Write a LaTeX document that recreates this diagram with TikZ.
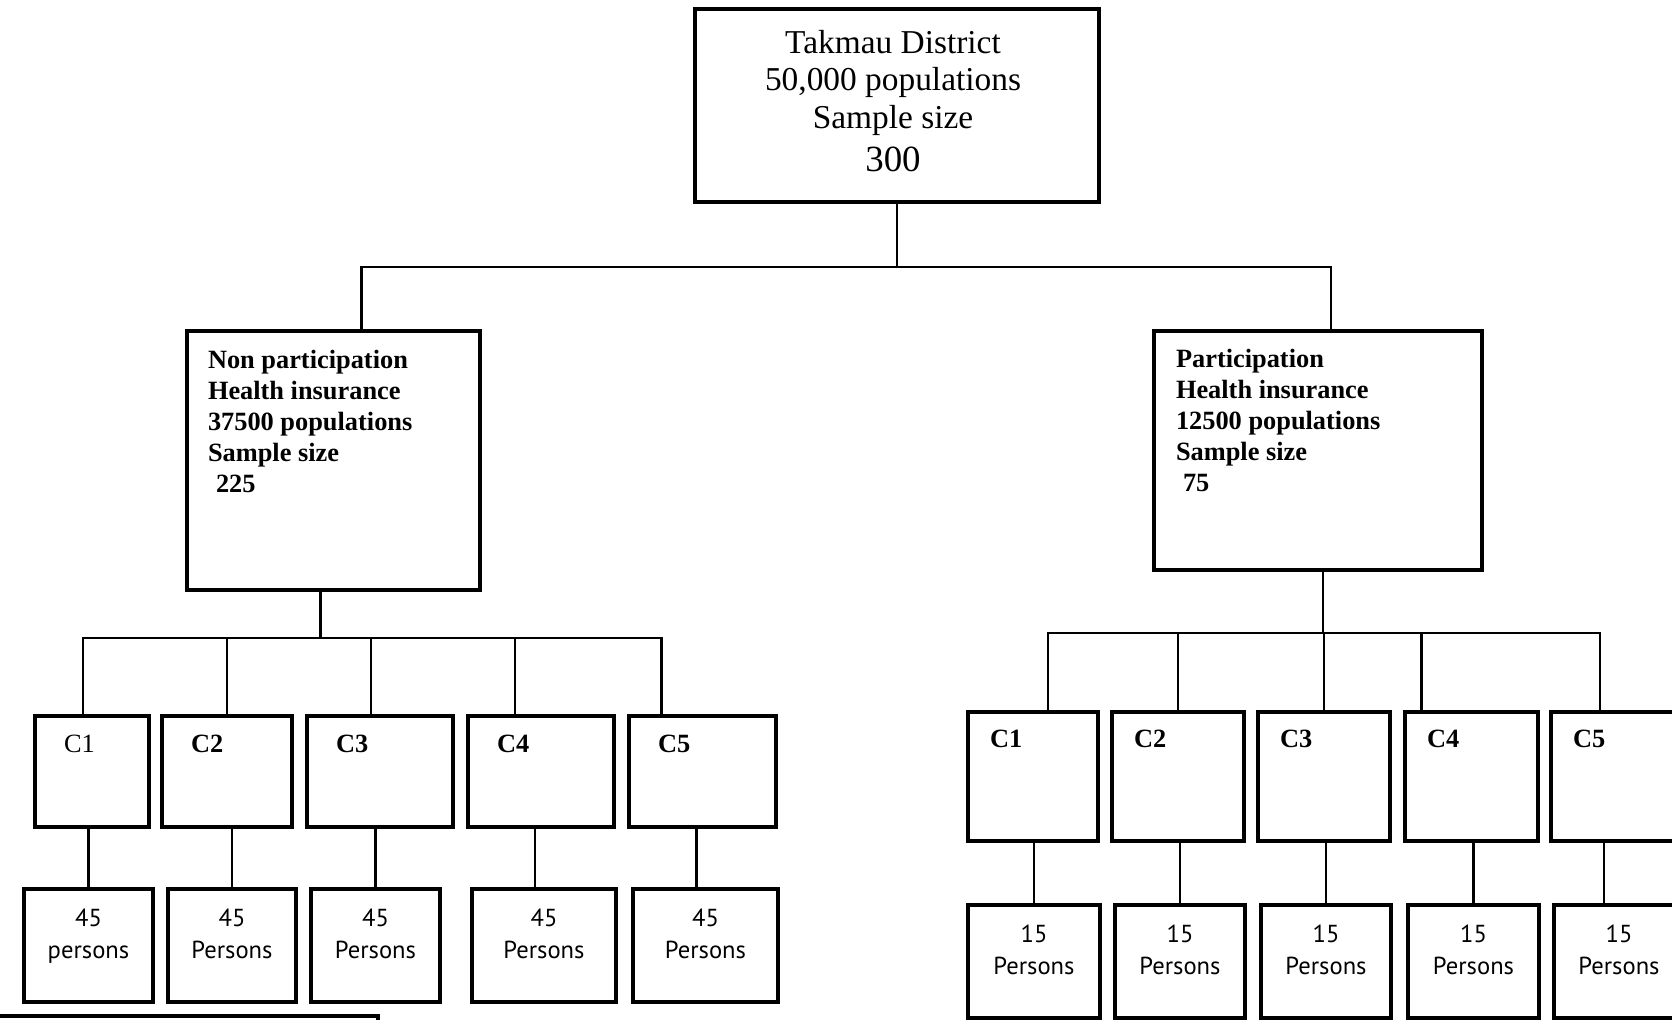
\documentclass[tikz,border=0pt]{standalone}
\usepackage{fontspec}
\setmainfont{Liberation Serif}
\newfontfamily\persfont{PT Sans}
\usetikzlibrary{positioning}

\begin{document}
\begin{tikzpicture}
    \tikzstyle{every node}=[inner sep=0pt, outer sep=0pt]
    \tikzset{
        n/.style={draw, line width=0.9pt},
        lcl/.style={n, minimum height=1.11cm},
        rcl/.style={n, minimum height=1.29cm},
        pers/.style={n, minimum height=1.13cm, align=center, font=\persfont\fontsize{7}{9}\selectfont, execute at end node={\rule[-0.24cm]{0pt}{0pt}}},
        grp/.style={anchor=north west, align=left, font=\fontsize{7.5}{8.8}\selectfont\bfseries},
        clab/.style={anchor=west, font=\fontsize{7.5}{9}\selectfont\bfseries},
        link/.style={line width=0.8pt}
        }

    \path[use as bounding box, fill=white] (0,0) rectangle (16.72,-10.19);

    %district
    \node (distr) [n, minimum width=4.04cm, minimum height=1.93cm, anchor=north west] at (6.95,-0.09) {};
    \node (distrtxt) [anchor=north, align=center, font=\fontsize{9.5}{10.7}\selectfont] at ([xshift=-0.04cm, yshift=-0.21cm]distr.north) {Takmau District\\50,000 populations\\Sample size\\[1.5pt]{\fontsize{10.5}{12}\selectfont 300}};

    %non participation
    \node (nonpart) [n, minimum width=2.93cm, minimum height=2.59cm, anchor=north west] at (1.87,-3.31) {};
    \node (nonparttxt) [grp] at ([xshift=0.21cm, yshift=-0.19cm]nonpart.north west) {Non participation\\Health insurance\\37500 populations\\Sample size\\\hspace*{0.8mm}225};

    %participation
    \node (part) [n, minimum width=3.28cm, minimum height=2.39cm, anchor=north west] at (11.54,-3.31) {};
    \node (parttxt) [grp] at ([xshift=0.22cm, yshift=-0.18cm]part.north west) {Participation\\Health insurance\\12500 populations\\Sample size\\\hspace*{0.7mm}75};

    %clusters (non participation)
    \node (lc1) [lcl, minimum width=1.14cm, anchor=north west] at (0.35,-7.16) {};
    \node (lc2) [lcl, minimum width=1.30cm, right=0.13cm of lc1] {};
    \node (lc3) [lcl, minimum width=1.46cm, right=0.15cm of lc2] {};
    \node (lc4) [lcl, minimum width=1.46cm, right=0.15cm of lc3] {};
    \node (lc5) [lcl, minimum width=1.47cm, right=0.15cm of lc4] {};

    \node (lcl1) [clab, font=\fontsize{7.5}{9}\selectfont] at ([xshift=0.29cm, yshift=-0.28cm]lc1.north west) {C1};
    \foreach \n in {2,...,5}
        \node (lcl\n) [clab] at ([xshift=0.29cm, yshift=-0.28cm]lc\n.north west) {C\n};

    %persons (non participation)
    \node (lp1) [pers, minimum width=1.29cm, anchor=north west] at (0.24,-8.89) {45\\persons};
    \node (lp2) [pers, minimum width=1.28cm, right=0.15cm of lp1] {45\\Persons};
    \node (lp3) [pers, minimum width=1.29cm, right=0.15cm of lp2] {45\\Persons};
    \node (lp4) [pers, minimum width=1.44cm, right=0.32cm of lp3] {45\\Persons};
    \node (lp5) [pers, minimum width=1.45cm, right=0.17cm of lp4] {45\\Persons};

    %clusters (participation)
    \node (rc1) [rcl, minimum width=1.30cm, anchor=north west] at (9.68,-7.12) {};
    \node (rc2) [rcl, minimum width=1.32cm, right=0.14cm of rc1] {};
    \node (rc3) [rcl, minimum width=1.32cm, right=0.14cm of rc2] {};
    \node (rc4) [rcl, minimum width=1.33cm, right=0.15cm of rc3] {};
    \node (rc5) [rcl, minimum width=1.30cm, right=0.13cm of rc4] {};

    \foreach \n in {1,...,5}
        \node (rcl\n) [clab] at ([xshift=0.22cm, yshift=-0.27cm]rc\n.north west) {C\n};

    %persons (participation)
    \node (rp1) [pers, minimum width=1.32cm, anchor=north west] at (9.68,-9.05) {15\\Persons};
    \node (rp2) [pers, minimum width=1.30cm, right=0.15cm of rp1] {15\\Persons};
    \node (rp3) [pers, minimum width=1.30cm, right=0.16cm of rp2] {15\\Persons};
    \node (rp4) [pers, minimum width=1.31cm, right=0.17cm of rp3] {15\\Persons};
    \node (rp5) [pers, minimum width=1.30cm, right=0.15cm of rp4] {15\\Persons};

    %box cut off at the bottom
    \node (nextbox) [n, line width=1.2pt, minimum width=4cm, minimum height=0.5cm, anchor=north east] at (3.78,-10.16) {};

    % district to groups
    \draw[link] (distr.south) -- ++(0,-0.65) coordinate (tbus);
    \draw[link] ([xshift=0.28cm]nonpart.north) |- (tbus) -| ([xshift=0.13cm]part.north);

    % groups to clusters
    \coordinate (lbus) at ([xshift=-0.13cm, yshift=-0.48cm]nonpart.south);
    \draw[link] (nonpart.south -| lbus) -- (lbus);
    \foreach \c/\dx in {lc1/-0.09, lc2/0, lc3/-0.09, lc4/-0.26, lc5/-0.41}
        \draw[link] ([xshift=\dx cm]\c.north) |- (lbus);

    \coordinate (rbus) at ([xshift=0.05cm, yshift=-0.63cm]part.south);
    \draw[link] (part.south -| rbus) -- (rbus);
    \foreach \c/\dx in {rc1/0.15, rc2/0, rc3/0, rc4/-0.5, rc5/-0.16}
        \draw[link] ([xshift=\dx cm]\c.north) |- (rbus);

    % clusters to persons
    \foreach \n/\dx in {1/0, 2/0, 3/0, 4/-0.09, 5/-0.09}
        \draw[link] ([xshift=\dx cm]lp\n.north) coordinate (lpt) -- (lpt |- lc\n.south);
    \foreach \n/\dx in {1/0, 2/0, 3/0, 4/0, 5/-0.15}
        \draw[link] ([xshift=\dx cm]rp\n.north) coordinate (rpt) -- (rpt |- rc\n.south);
\end{tikzpicture}
\end{document}
